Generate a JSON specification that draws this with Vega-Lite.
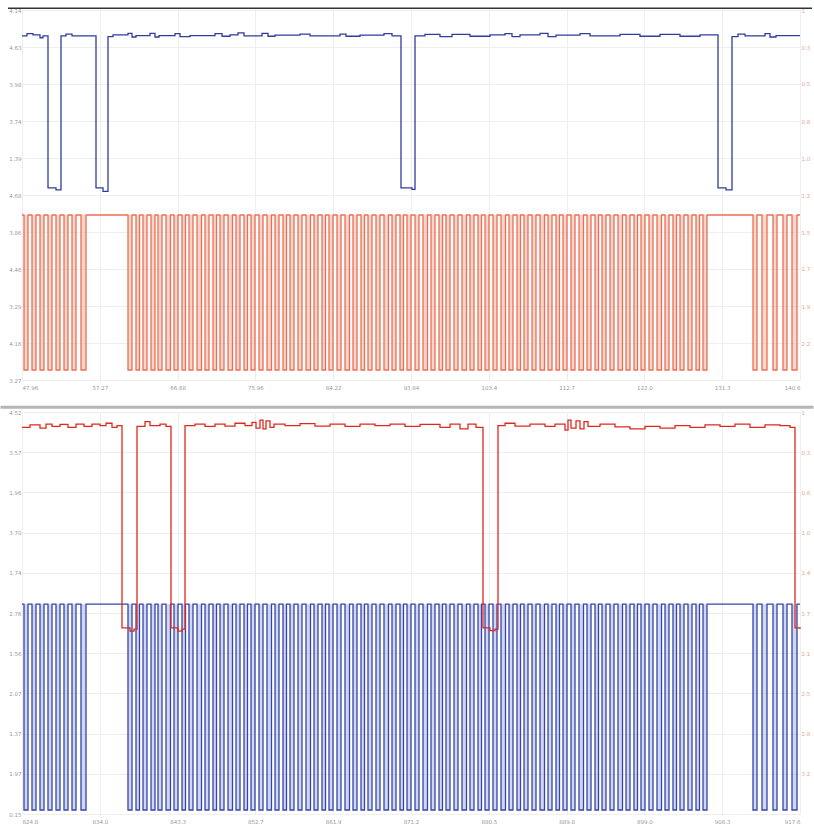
{
  "$schema": "https://vega.github.io/schema/vega-lite/v6.json",
  "background": "white",
  "padding": {"left": -6, "top": 5, "right": 0, "bottom": 4},
  "bounds": "flush",
  "spacing": 32,
  "config": {
    "view": {"stroke": null},
    "axis": {"labelFont": "DejaVu Sans", "labelFontSize": 5.5, "labelColor": "#9a9a9a", "ticks": false, "domain": false, "title": null, "gridColor": "#eeeeee", "gridWidth": 1, "labelPadding": 1}
  },
  "datasets": {
    "tb": [
      {"t":22,"v":9.3},{"t":27,"v":9.36},{"t":33,"v":9.33},{"t":40,"v":9.25},{"t":43,"v":9.3},{"t":48,"v":5.19},{"t":56,"v":5.14},{"t":61,"v":9.3},{"t":66,"v":9.35},{"t":72,"v":9.3},{"t":96,"v":5.19},{"t":103,"v":5.1},{"t":108,"v":9.28},{"t":113,"v":9.33},{"t":128,"v":9.37},{"t":132,"v":9.27},{"t":136,"v":9.31},{"t":150,"v":9.37},{"t":155,"v":9.27},{"t":159,"v":9.31},{"t":175,"v":9.36},{"t":180,"v":9.28},{"t":190,"v":9.31},{"t":215,"v":9.36},{"t":222,"v":9.29},{"t":230,"v":9.33},{"t":238,"v":9.38},{"t":244,"v":9.3},{"t":262,"v":9.37},{"t":268,"v":9.29},{"t":275,"v":9.32},{"t":300,"v":9.35},{"t":310,"v":9.3},{"t":340,"v":9.35},{"t":346,"v":9.29},{"t":360,"v":9.32},{"t":384,"v":9.36},{"t":392,"v":9.3},{"t":401,"v":5.19},{"t":412,"v":5.15},{"t":415,"v":9.3},{"t":425,"v":9.34},{"t":440,"v":9.28},{"t":452,"v":9.34},{"t":470,"v":9.29},{"t":490,"v":9.33},{"t":505,"v":9.36},{"t":512,"v":9.28},{"t":520,"v":9.33},{"t":540,"v":9.37},{"t":548,"v":9.28},{"t":556,"v":9.32},{"t":580,"v":9.36},{"t":590,"v":9.3},{"t":620,"v":9.34},{"t":640,"v":9.29},{"t":660,"v":9.34},{"t":680,"v":9.29},{"t":700,"v":9.33},{"t":718,"v":5.19},{"t":726,"v":5.14},{"t":732,"v":9.28},{"t":738,"v":9.35},{"t":745,"v":9.3},{"t":765,"v":9.36},{"t":770,"v":9.27},{"t":776,"v":9.31},{"t":800,"v":9.31}
    ],
    "br": [
      {"t":22,"v":9.62},{"t":30,"v":9.68},{"t":40,"v":9.6},{"t":46,"v":9.7},{"t":52,"v":9.64},{"t":60,"v":9.69},{"t":68,"v":9.62},{"t":76,"v":9.7},{"t":84,"v":9.64},{"t":92,"v":9.7},{"t":100,"v":9.66},{"t":106,"v":9.72},{"t":112,"v":9.62},{"t":117,"v":9.66},{"t":122,"v":4.63},{"t":130,"v":4.55},{"t":134,"v":4.6},{"t":137,"v":9.64},{"t":145,"v":9.76},{"t":150,"v":9.66},{"t":160,"v":9.7},{"t":166,"v":9.64},{"t":171,"v":4.63},{"t":178,"v":4.55},{"t":182,"v":4.6},{"t":185,"v":9.66},{"t":195,"v":9.7},{"t":205,"v":9.64},{"t":215,"v":9.7},{"t":225,"v":9.65},{"t":235,"v":9.72},{"t":245,"v":9.66},{"t":252,"v":9.74},{"t":256,"v":9.6},{"t":260,"v":9.8},{"t":263,"v":9.58},{"t":266,"v":9.78},{"t":270,"v":9.62},{"t":274,"v":9.7},{"t":285,"v":9.66},{"t":300,"v":9.71},{"t":315,"v":9.65},{"t":330,"v":9.7},{"t":345,"v":9.64},{"t":360,"v":9.7},{"t":375,"v":9.66},{"t":390,"v":9.7},{"t":405,"v":9.64},{"t":420,"v":9.69},{"t":440,"v":9.62},{"t":450,"v":9.7},{"t":460,"v":9.58},{"t":468,"v":9.7},{"t":476,"v":9.62},{"t":483,"v":4.63},{"t":490,"v":4.56},{"t":495,"v":4.6},{"t":498,"v":9.66},{"t":505,"v":9.72},{"t":515,"v":9.65},{"t":530,"v":9.7},{"t":545,"v":9.64},{"t":555,"v":9.7},{"t":565,"v":9.55},{"t":568,"v":9.8},{"t":571,"v":9.6},{"t":576,"v":9.78},{"t":580,"v":9.58},{"t":584,"v":9.76},{"t":588,"v":9.64},{"t":600,"v":9.7},{"t":615,"v":9.63},{"t":630,"v":9.58},{"t":645,"v":9.64},{"t":660,"v":9.6},{"t":675,"v":9.66},{"t":690,"v":9.62},{"t":705,"v":9.68},{"t":720,"v":9.64},{"t":735,"v":9.7},{"t":750,"v":9.62},{"t":765,"v":9.68},{"t":780,"v":9.66},{"t":790,"v":9.62},{"t":795,"v":4.63},{"t":800,"v":4.6}
    ],
    "p": [
      {"t":22,"s":1},
      {"t":24,"s":0},{"t":28,"s":1},{"t":32,"s":0},{"t":36,"s":1},{"t":40,"s":0},{"t":44,"s":1},{"t":48,"s":0},{"t":52,"s":1},{"t":56,"s":0},{"t":60,"s":1},{"t":64,"s":0},{"t":68,"s":1},{"t":72,"s":0},{"t":76,"s":1},{"t":81,"s":0},{"t":86,"s":1},
      {"t":128,"s":0},{"t":132,"s":1},{"t":136,"s":0},{"t":139.5,"s":1},{"t":143,"s":0},{"t":147,"s":1},{"t":151,"s":0},{"t":155,"s":1},{"t":158,"s":0},{"t":162,"s":1},{"t":166,"s":0},{"t":170.5,"s":1},{"t":174,"s":0},{"t":178,"s":1},{"t":182,"s":0},{"t":185.5,"s":1},{"t":189,"s":0},{"t":193,"s":1},{"t":197,"s":0},{"t":201.5,"s":1},
      {"t":205,"s":0},{"t":209,"s":1},{"t":213,"s":0},{"t":216.5,"s":1},{"t":220,"s":0},{"t":224,"s":1},{"t":228,"s":0},{"t":232.5,"s":1},{"t":236,"s":0},{"t":240,"s":1},{"t":244,"s":0},{"t":247.5,"s":1},{"t":251,"s":0},{"t":255,"s":1},{"t":259,"s":0},{"t":263,"s":1},{"t":267,"s":0},{"t":271.5,"s":1},{"t":275,"s":0},{"t":279,"s":1},
      {"t":283,"s":0},{"t":286.5,"s":1},{"t":290,"s":0},{"t":294,"s":1},{"t":298,"s":0},{"t":302,"s":1},{"t":306,"s":0},{"t":310.5,"s":1},{"t":314,"s":0},{"t":318,"s":1},{"t":322,"s":0},{"t":325.5,"s":1},{"t":329,"s":0},{"t":333,"s":1},{"t":337,"s":0},{"t":341,"s":1},{"t":345,"s":0},{"t":349.5,"s":1},{"t":353,"s":0},{"t":357,"s":1},
      {"t":361,"s":0},{"t":364.5,"s":1},{"t":368,"s":0},{"t":372,"s":1},{"t":376,"s":0},{"t":380,"s":1},{"t":384,"s":0},{"t":388.5,"s":1},{"t":392,"s":0},{"t":396,"s":1},{"t":400,"s":0},{"t":403.5,"s":1},{"t":407,"s":0},{"t":411,"s":1},{"t":415,"s":0},{"t":419,"s":1},{"t":423,"s":0},{"t":427.5,"s":1},{"t":431,"s":0},{"t":435,"s":1},
      {"t":439,"s":0},{"t":442.5,"s":1},{"t":446,"s":0},{"t":450,"s":1},{"t":454,"s":0},{"t":458,"s":1},{"t":462,"s":0},{"t":466.5,"s":1},{"t":470,"s":0},{"t":474,"s":1},{"t":478,"s":0},{"t":481.5,"s":1},{"t":485,"s":0},{"t":489,"s":1},{"t":493,"s":0},{"t":497,"s":1},{"t":501,"s":0},{"t":505.5,"s":1},{"t":509,"s":0},{"t":513,"s":1},
      {"t":517,"s":0},{"t":520.5,"s":1},{"t":524,"s":0},{"t":528,"s":1},{"t":532,"s":0},{"t":536,"s":1},{"t":540,"s":0},{"t":544.5,"s":1},{"t":548,"s":0},{"t":552,"s":1},{"t":556,"s":0},{"t":559.5,"s":1},{"t":563,"s":0},{"t":567,"s":1},{"t":571,"s":0},{"t":575,"s":1},{"t":579,"s":0},{"t":583.5,"s":1},{"t":587,"s":0},{"t":591,"s":1},
      {"t":595,"s":0},{"t":598.5,"s":1},{"t":602,"s":0},{"t":606,"s":1},{"t":610,"s":0},{"t":614,"s":1},{"t":618,"s":0},{"t":622.5,"s":1},{"t":626,"s":0},{"t":630,"s":1},{"t":634,"s":0},{"t":637.5,"s":1},{"t":641,"s":0},{"t":645,"s":1},{"t":649,"s":0},{"t":653,"s":1},{"t":657,"s":0},{"t":661.5,"s":1},{"t":665,"s":0},{"t":669,"s":1},
      {"t":673,"s":0},{"t":676.5,"s":1},{"t":680,"s":0},{"t":684,"s":1},{"t":688,"s":0},{"t":692,"s":1},{"t":696,"s":0},{"t":699.5,"s":1},{"t":703,"s":0},{"t":707,"s":1},
      {"t":753,"s":0},{"t":757,"s":1},{"t":762,"s":0},{"t":767,"s":1},{"t":773,"s":0},{"t":777,"s":1},{"t":783,"s":0},{"t":787,"s":1},{"t":792,"s":0},{"t":797,"s":1},{"t":800,"s":1}
    ],
    "topline": [{"t":8,"v":10.05},{"t":812,"v":10.05}],
    "sepline": [{"t":0.5,"v":10.12},{"t":813.5,"v":10.12}]
  },
  "vconcat": [
    {
      "width": 778,
      "height": 370,
      "encoding": {
        "x": {"field": "t", "type": "quantitative", "scale": {"domain": [22, 800], "nice": false, "zero": false},
          "axis": {"values": [22, 99.8, 177.6, 255.4, 333.2, 411, 488.8, 566.6, 644.4, 722.2, 800], "grid": true, "labelPadding": 5,
            "labelExpr": "['47.96','57.27','66.68','75.96','84.22','93.84','103.4','112.7','122.0','131.3','140.6'][round((datum.value-22)/77.8)]"}}
      },
      "layer": [
        {
          "data": {"name": "p"},
          "mark": {"type": "area", "interpolate": "step-after", "fill": "#f2a48e", "fillOpacity": 0.45},
          "encoding": {
            "y": {"field": "s", "type": "quantitative", "scale": {"domain": [-0.0644, 2.3222], "nice": false, "zero": false}, "axis": null},
            "y2": {"datum": 1}
          }
        },
        {
          "data": {"name": "p"},
          "mark": {"type": "line", "interpolate": "step-after", "color": "#ec6f55", "strokeWidth": 1.3},
          "encoding": {
            "y": {"field": "s", "type": "quantitative", "scale": {"domain": [-0.0644, 2.3222], "nice": false, "zero": false},
              "axis": {"orient": "right", "grid": false, "labelColor": "#e9a393", "values": [-0.0644, 0.1742, 0.4129, 0.6516, 0.8902, 1.1289, 1.3675, 1.6062, 1.8449, 2.0835, 2.3222],
                "labelExpr": "['','2.2','1.9','1.7','1.5','1.2','1.0','0.8','0.5','0.3','1'][round(datum.value*4.19+0.27)]"}}
          }
        },
        {
          "data": {"name": "tb"},
          "mark": {"type": "line", "interpolate": "step-after", "color": "#2e3d9e", "strokeWidth": 1.3},
          "encoding": {
            "y": {"field": "v", "type": "quantitative", "scale": {"domain": [0, 10], "nice": false, "zero": false},
              "axis": {"orient": "left", "grid": true, "values": [0,1,2,3,4,5,6,7,8,9,10],
                "labelExpr": "['3.27','4.16','3.29','4.46','3.86','4.68','1.39','3.74','3.98','4.63','4.14'][datum.value]"}}
          }
        },
        {
          "data": {"name": "topline"},
          "mark": {"type": "line", "color": "#333333", "strokeWidth": 1.5},
          "encoding": {
            "y": {"field": "v", "type": "quantitative", "scale": {"domain": [0, 10], "nice": false, "zero": false}, "axis": null}
          }
        }
      ],
      "resolve": {"scale": {"y": "independent"}}
    },
    {
      "width": 778,
      "height": 402,
      "encoding": {
        "x": {"field": "t", "type": "quantitative", "scale": {"domain": [22, 800], "nice": false, "zero": false},
          "axis": {"values": [22, 99.8, 177.6, 255.4, 333.2, 411, 488.8, 566.6, 644.4, 722.2, 800], "grid": true, "labelPadding": 5,
            "labelExpr": "['824.8','834.0','843.3','852.7','861.9','871.2','880.5','889.8','899.0','908.3','917.6'][round((datum.value-22)/77.8)]"}}
      },
      "layer": [
        {
          "data": {"name": "p"},
          "mark": {"type": "area", "interpolate": "step-after", "fill": "#9aa3df", "fillOpacity": 0.45},
          "encoding": {
            "y": {"field": "s", "type": "quantitative", "scale": {"domain": [-0.0195, 1.9336], "nice": false, "zero": false}, "axis": null},
            "y2": {"datum": 1}
          }
        },
        {
          "data": {"name": "p"},
          "mark": {"type": "line", "interpolate": "step-after", "color": "#3545aa", "strokeWidth": 1.3},
          "encoding": {
            "y": {"field": "s", "type": "quantitative", "scale": {"domain": [-0.0195, 1.9336], "nice": false, "zero": false}, "axis": null}
          }
        },
        {
          "data": {"name": "br"},
          "mark": {"type": "line", "interpolate": "step-after", "color": "#e0281e", "strokeWidth": 1.3},
          "encoding": {
            "y": {"field": "v", "type": "quantitative", "scale": {"domain": [0, 10], "nice": false, "zero": false},
              "axis": {"orient": "left", "grid": true, "values": [0,1,2,3,4,5,6,7,8,9,10],
                "labelExpr": "['0.15','1.97','1.37','2.07','1.56','2.76','1.74','3.70','1.96','3.57','4.52'][datum.value]"}}
          }
        },
        {
          "data": {"name": "br"},
          "mark": {"type": "line", "opacity": 0},
          "encoding": {
            "y": {"field": "v", "type": "quantitative", "scale": {"domain": [0, 10], "nice": false, "zero": false},
              "axis": {"orient": "right", "grid": false, "labelColor": "#e9a393", "values": [1,2,3,4,5,6,7,8,9,10],
                "labelExpr": "['','3.2','2.8','2.5','2.1','1.7','1.4','1.0','0.6','0.3','1'][datum.value]"}}
          }
        },
        {
          "data": {"name": "sepline"},
          "mark": {"type": "line", "color": "#b5b5b5", "strokeWidth": 3},
          "encoding": {
            "y": {"field": "v", "type": "quantitative", "scale": {"domain": [0, 10], "nice": false, "zero": false}, "axis": null}
          }
        }
      ],
      "resolve": {"scale": {"y": "independent"}}
    }
  ]
}
